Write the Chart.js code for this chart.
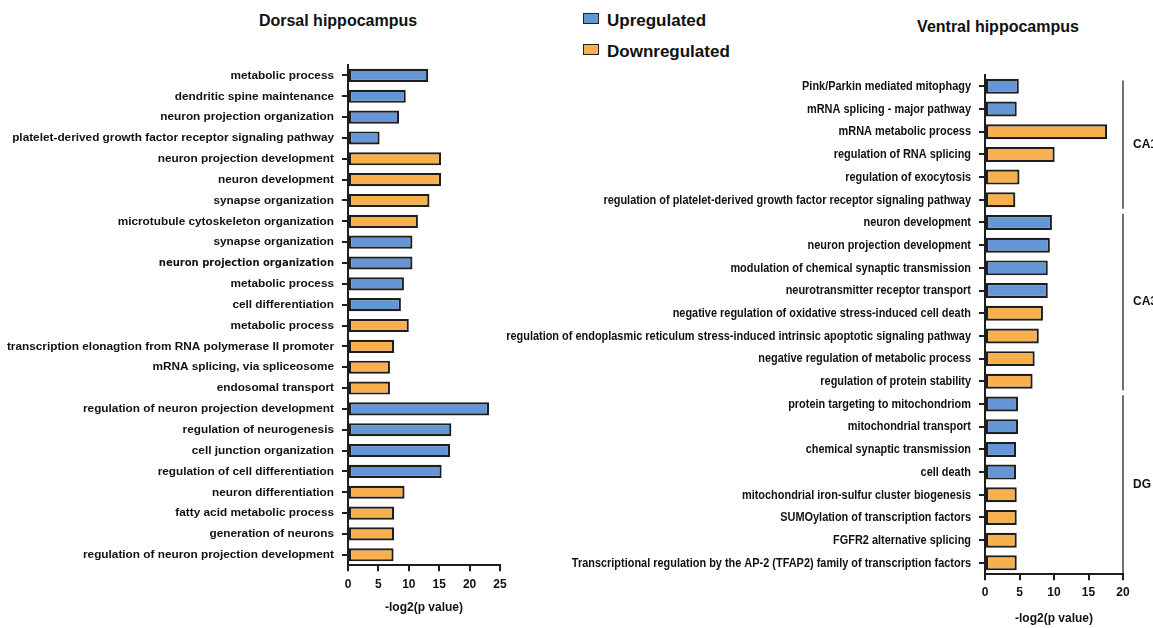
<!DOCTYPE html>
<html>
<head>
<meta charset="utf-8">
<script src="https://cdn.jsdelivr.net/npm/chart.js@4.4.1/dist/chart.umd.min.js"></script>
<style>
    html, body { margin: 0; padding: 0; background: #ffffff; }
    body { width: 1153px; height: 628px; position: relative; overflow: hidden; font-family: 'Liberation Sans', Arial, sans-serif; color: #111; }
    .title { position: absolute; font-weight: bold; font-size: 16px; white-space: nowrap; transform: translateX(-50%); }
    .legend { position: absolute; left: 583px; font-weight: bold; font-size: 17px; white-space: nowrap; }
    .legend .box { display: inline-block; width: 14px; height: 9px; border: 1.5px solid #222; margin-right: 8px; vertical-align: 2px; }
    #dorsalWrap { position: absolute; left: 0; top: 55px; width: 520px; height: 573px; }
    #ventralWrap { position: absolute; left: 500px; top: 55px; width: 653px; height: 573px; }
</style>
</head>
<body>
<div class="title" style="left:338px; top:12px;">Dorsal hippocampus</div>
<div class="title" style="left:998px; top:18px;">Ventral hippocampus</div>
<div class="legend" style="top:11px;"><span class="box" style="background:#6495d5"></span>Upregulated</div>
<div class="legend" style="top:42px;"><span class="box" style="background:#f8b04f"></span>Downregulated</div>

<div id="dorsalWrap"><canvas id="dorsalChart"></canvas></div>
<div id="ventralWrap"><canvas id="ventralChart"></canvas></div>

<script>
// ---- Data ----
const dorsalTerms = [
    'metabolic process',
    'dendritic spine maintenance',
    'neuron projection organization',
    'platelet-derived growth factor receptor signaling pathway',
    'neuron projection development',
    'neuron development',
    'synapse organization',
    'microtubule cytoskeleton organization',
    'synapse organization',
    'neuron projection organization',
    'metabolic process',
    'cell differentiation',
    'metabolic process',
    'transcription elonagtion from RNA polymerase II promoter',
    'mRNA splicing, via spliceosome',
    'endosomal transport',
    'regulation of neuron projection development',
    'regulation of neurogenesis',
    'cell junction organization',
    'regulation of cell differentiation',
    'neuron differentiation',
    'fatty acid metabolic process',
    'generation of neurons',
    'regulation of neuron projection development'
];
const dorsalValues = [13.2, 9.5, 8.4, 5.2, 15.3, 15.3, 13.4, 11.5, 10.6, 10.6, 9.2, 8.7, 10.0,
    7.6, 6.9, 6.9, 23.2, 17.0, 16.8, 15.4, 9.3, 7.6, 7.6, 7.5];
const dorsalRegulation = ['up', 'up', 'up', 'up', 'down', 'down', 'down', 'down', 'up', 'up', 'up', 'up', 'down',
    'down', 'down', 'down', 'up', 'up', 'up', 'up', 'down', 'down', 'down', 'down'];

const ventralTerms = [
    'Pink/Parkin mediated mitophagy',
    'mRNA splicing - major pathway',
    'mRNA metabolic process',
    'regulation of RNA splicing',
    'regulation of exocytosis',
    'regulation of platelet-derived growth factor receptor signaling pathway',
    'neuron development',
    'neuron projection development',
    'modulation of chemical synaptic transmission',
    'neurotransmitter receptor transport',
    'negative regulation of oxidative stress-induced cell death',
    'regulation of endoplasmic reticulum stress-induced intrinsic apoptotic signaling pathway',
    'negative regulation of metabolic process',
    'regulation of protein stability',
    'protein targeting to mitochondriom',
    'mitochondrial transport',
    'chemical synaptic transmission',
    'cell death',
    'mitochondrial iron-sulfur cluster biogenesis',
    'SUMOylation of transcription factors',
    'FGFR2 alternative splicing',
    'Transcriptional regulation by the AP-2 (TFAP2) family of transcription factors'
];
const ventralValues = [4.9, 4.6, 17.7, 10.1, 5.0, 4.4, 9.7, 9.4, 9.1, 9.1, 8.4, 7.8, 7.2, 6.9,
    4.8, 4.8, 4.5, 4.5, 4.6, 4.6, 4.6, 4.6];
const ventralRegulation = ['up', 'up', 'down', 'down', 'down', 'down', 'up', 'up', 'up', 'up', 'down', 'down', 'down', 'down',
    'up', 'up', 'up', 'up', 'down', 'down', 'down', 'down'];

// region groups on the ventral chart: [first index, last index, label]
const ventralRegions = [[0, 5, 'CA1'], [6, 13, 'CA3'], [14, 21, 'DG']];

const dorsalTicks = [0, 5, 10, 15, 20, 25];
const ventralTicks = [0, 5, 10, 15, 20];

const colors = { up: '#6495d5', down: '#f8b04f', edge: '#1e1e1e' };
const labelFont = "'Liberation Sans', Arial, sans-serif";

/**
 * Ventral labels are set in a narrow face in the original;
 * no narrow font is installed, so squeeze the bold face horizontally.
 */
const narrowLabels = {
    id: 'narrowLabels',
    afterDraw(chart) {
        const { ctx } = chart;
        const y = chart.scales.y;
        const x0 = y.right - 6 - 8;
        ctx.save();
        ctx.fillStyle = '#111';
        ctx.font = 'bold 13.5px ' + labelFont;
        ctx.textAlign = 'right';
        ctx.textBaseline = 'middle';
        chart.data.labels.forEach((label, i) => {
            ctx.save();
            ctx.translate(x0, y.getPixelForValue(i));
            ctx.scale(0.81, 1);
            ctx.fillText(label, 0, 0);
            ctx.restore();
        });
        ctx.restore();
    }
};

/**
 * Draw the CA1 / CA3 / DG brackets along the right edge
 */
const regionBrackets = {
    id: 'regionBrackets',
    afterDraw(chart) {
        const { ctx, chartArea } = chart;
        const y = chart.scales.y;
        const x = chart.scales.x;
        const step = y.getPixelForValue(1) - y.getPixelForValue(0);
        const lineX = x.getPixelForValue(20);
        ctx.save();
        ctx.strokeStyle = '#111';
        ctx.lineWidth = 1.2;
        ctx.fillStyle = '#111';
        ctx.font = 'bold 12px ' + labelFont;
        ctx.textBaseline = 'middle';
        ventralRegions.forEach(([first, last, name], i) => {
            let top = y.getPixelForValue(first) - step / 2 + 2.5;
            let bottom = y.getPixelForValue(last) + step / 2 - 2.5;
            if (i === 0) top += 3;
            if (i === ventralRegions.length - 1) bottom = chartArea.bottom;
            ctx.beginPath();
            ctx.moveTo(lineX, top);
            ctx.lineTo(lineX, bottom);
            ctx.stroke();
            ctx.fillText(name, lineX + 10, (top + bottom) / 2);
        });
        ctx.restore();
    }
};

function buildChart(canvasId, opts) {
    const ctx = document.getElementById(canvasId);
    return new Chart(ctx, {
        type: 'bar',
        data: {
            labels: opts.labels,
            datasets: [{
                data: opts.values,
                backgroundColor: opts.regulation.map(r => colors[r]),
                borderColor: colors.edge,
                borderWidth: 2.2,
                borderSkipped: false,
                categoryPercentage: 1,
                barPercentage: opts.barPercentage
            }]
        },
        options: {
            indexAxis: 'y',
            responsive: true,
            maintainAspectRatio: false,
            animation: false,
            layout: { padding: opts.padding },
            plugins: {
                legend: { display: false },
                tooltip: { enabled: false }
            },
            scales: {
                x: {
                    min: 0,
                    max: opts.max,
                    afterBuildTicks: (scale) => {
                        scale.ticks = opts.ticks.map(v => ({ value: v }));
                    },
                    grid: { drawOnChartArea: false, color: '#1e1e1e', lineWidth: 2, tickLength: 6 },
                    border: { display: true, color: '#1e1e1e', width: 2 },
                    ticks: {
                        color: '#111',
                        padding: opts.xTickPad,
                        maxRotation: 0,
                        font: { family: labelFont, size: 12, weight: 'bold' }
                    },
                    title: {
                        display: true,
                        text: '-log2(p value)',
                        color: '#111',
                        padding: { top: opts.titlePad, bottom: 0 },
                        font: { family: labelFont, size: 12, weight: 'bold' }
                    }
                },
                y: {
                    afterFit: (scale) => {
                        scale.width = opts.yWidth;
                        // let layout.padding alone decide the top/bottom of the plot
                        scale.paddingTop = 0;
                        scale.paddingBottom = 0;
                    },
                    grid: { drawOnChartArea: false, offset: false, color: '#1e1e1e', lineWidth: 2, tickLength: 6 },
                    border: { display: true, color: '#1e1e1e', width: 2 },
                    ticks: {
                        display: opts.showYTicks,
                        color: '#111',
                        padding: 8,
                        autoSkip: false,
                        font: opts.yFont
                    }
                }
            }
        },
        plugins: opts.plugins || []
    });
}

buildChart('dorsalChart', {
    labels: dorsalTerms,
    values: dorsalValues,
    regulation: dorsalRegulation,
    max: 25,
    ticks: dorsalTicks,
    barPercentage: 0.63,
    yWidth: 348,
    padding: { top: 10, right: 20, bottom: 13, left: 0 },
    xTickPad: 6,
    titlePad: 3,
    showYTicks: true,
    // one label in the original uses a different typeface
    yFont: (c) => c.index === 9
        ? { family: "'DejaVu Sans', sans-serif", size: 10, weight: 'bold' }
        : { family: labelFont, size: 11.8, weight: 'bold' }
});

buildChart('ventralChart', {
    labels: ventralTerms,
    values: ventralValues,
    regulation: ventralRegulation,
    max: 20,
    ticks: ventralTicks,
    barPercentage: 0.66,
    yWidth: 485,
    padding: { top: 20, right: 30, bottom: 2, left: 0 },
    xTickPad: 5,
    titlePad: 7,
    showYTicks: false,
    yFont: { family: labelFont, size: 12, weight: 'bold' },
    plugins: [narrowLabels, regionBrackets]
});
</script>
</body>
</html>
